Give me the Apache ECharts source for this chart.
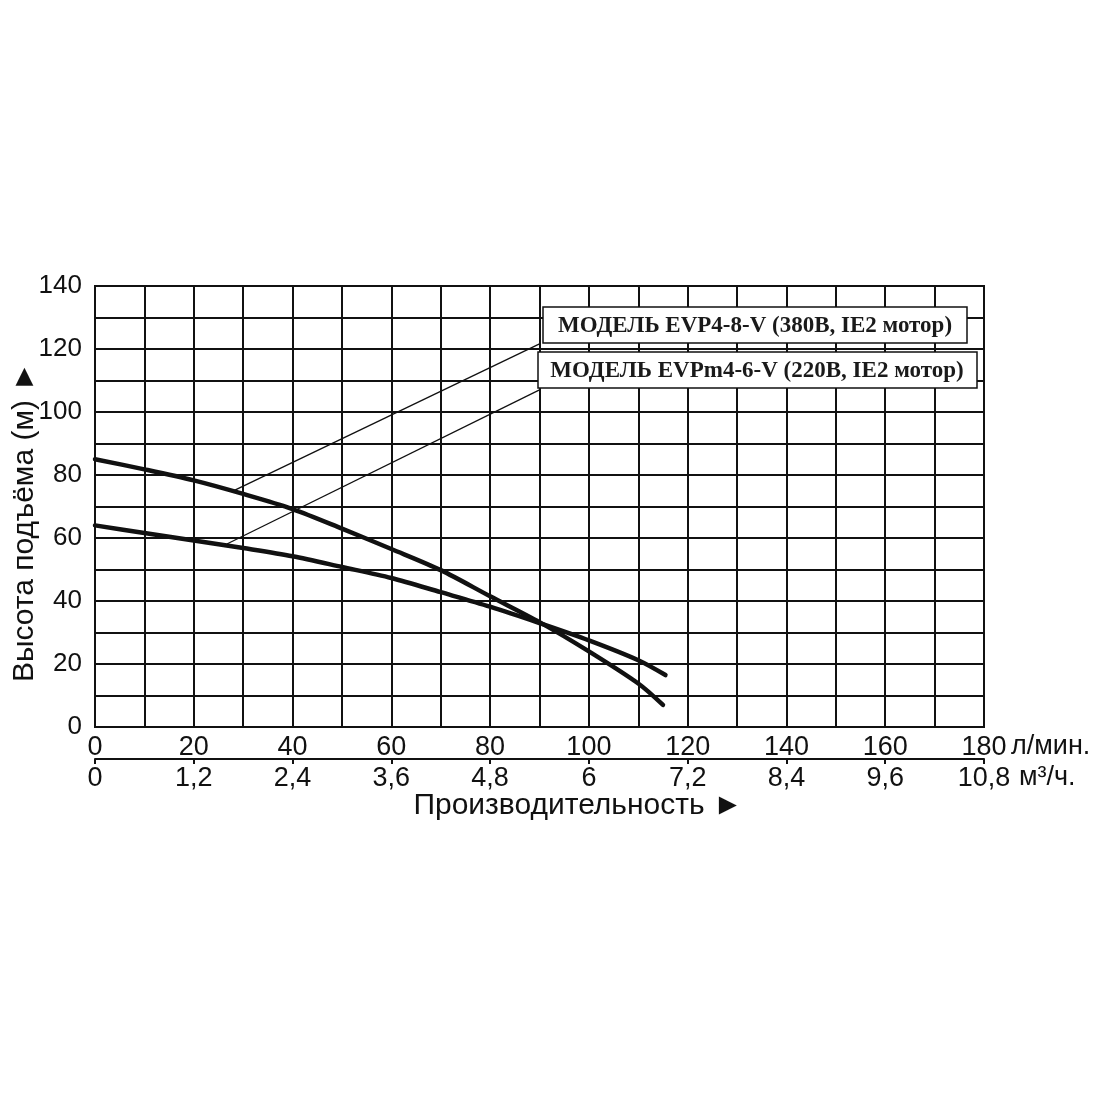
<!DOCTYPE html>
<html>
<head>
<meta charset="utf-8">
<script src="https://cdn.jsdelivr.net/npm/echarts@6/dist/echarts.min.js"></script>
<style>
  html, body { margin: 0; padding: 0; background: #fff; }
  #chart { width: 1100px; height: 1100px; }
</style>
</head>
<body>
<div id="chart"></div>
<script>
// pump curves, flow in l/min, head in m
const flowA = [0, 10, 20, 30, 40, 50, 60, 70, 80, 90, 100, 110, 115];
const headA = [85, 81.8, 78.3, 74, 69.2, 63, 56.5, 49.8, 41.5, 33.3, 24, 13.8, 7];
const flowB = [0, 10, 20, 30, 40, 50, 60, 70, 80, 90, 100, 110, 115.5];
const headB = [64, 61.6, 59.2, 56.8, 54.2, 50.8, 47.3, 42.8, 38.2, 33, 27.5, 21.2, 16.5];

// leader lines from curve to label box
const leaderA = [[27.9, 74.9], [90, 121.6]];
const leaderB = [[26.7, 58.1], [90, 107]];

const modelNames = ["МОДЕЛЬ EVP4-8-V (380В, IE2 мотор)", "МОДЕЛЬ EVPm4-6-V (220В, IE2 мотор)"];
const m3hLabels = ["0", "1,2", "2,4", "3,6", "4,8", "6", "7,2", "8,4", "9,6", "10,8"];

const FONT = "'Liberation Sans', Arial, sans-serif";
const SERIF = "'Liberation Serif', 'Times New Roman', serif";
const INK = "#111";

const chart = echarts.init(document.getElementById("chart"));

const option = {
  backgroundColor: "#fff",
  animation: false,
  grid: {
    left: 95, right: 116, top: 286, bottom: 373,
    show: true, borderColor: INK, borderWidth: 2
  },
  xAxis: [
    {
      type: "value", min: 0, max: 180, interval: 10,
      axisLine: { show: true, lineStyle: { color: INK, width: 2 } },
      axisTick: { show: false },
      splitLine: { show: true, lineStyle: { color: INK, width: 2 } },
      axisLabel: {
        margin: 7, fontSize: 27, color: INK, fontFamily: FONT,
        formatter: (v) => (v % 20 === 0 ? String(v) : "")
      }
    },
    {
      type: "value", min: 0, max: 180, interval: 20,
      position: "bottom", offset: 32,
      axisLine: { show: true, lineStyle: { color: INK, width: 2 } },
      axisTick: { show: true, length: 5, lineStyle: { color: INK, width: 2 } },
      splitLine: { show: false },
      axisLabel: {
        margin: 6, fontSize: 27, color: INK, fontFamily: FONT,
        formatter: (v) => m3hLabels[Math.round(v / 20)]
      }
    }
  ],
  yAxis: {
    type: "value", min: 0, max: 140, interval: 10,
    axisLine: { show: true, lineStyle: { color: INK, width: 2 } },
    axisTick: { show: false },
    splitLine: { show: true, lineStyle: { color: INK, width: 2 } },
    axisLabel: {
      margin: 13, fontSize: 26, color: INK, fontFamily: FONT,
      formatter: (v) => (v % 20 === 0 ? String(v) : "")
    }
  },
  series: [
    {
      name: modelNames[0], type: "line", xAxisIndex: 0,
      data: flowA.map((f, i) => [f, headA[i]]),
      smooth: 0.3, showSymbol: false,
      lineStyle: { color: INK, width: 4.5, cap: "round" },
      markLine: {
        silent: true, symbol: ["none", "none"],
        label: { show: false },
        lineStyle: { color: INK, width: 1.3, type: "solid" },
        data: [[{ coord: leaderA[0] }, { coord: leaderA[1] }]]
      },
      z: 3
    },
    {
      name: modelNames[1], type: "line", xAxisIndex: 0,
      data: flowB.map((f, i) => [f, headB[i]]),
      smooth: 0.3, showSymbol: false,
      lineStyle: { color: INK, width: 4.5, cap: "round" },
      markLine: {
        silent: true, symbol: ["none", "none"],
        label: { show: false },
        lineStyle: { color: INK, width: 1.3, type: "solid" },
        data: [[{ coord: leaderB[0] }, { coord: leaderB[1] }]]
      },
      z: 3
    }
  ],
  graphic: [
    // model label boxes
    { type: "rect", z: 100, shape: { x: 543, y: 307, width: 424, height: 36 },
      style: { fill: "#fff", stroke: INK, lineWidth: 1.5 } },
    { type: "text", z: 101, x: 755, y: 326,
      style: { text: modelNames[0], fill: "#1a1a1a", align: "center", verticalAlign: "middle",
               font: "bold 23px " + SERIF } },
    { type: "rect", z: 100, shape: { x: 538, y: 352, width: 439, height: 36 },
      style: { fill: "#fff", stroke: INK, lineWidth: 1.5 } },
    { type: "text", z: 101, x: 757, y: 371,
      style: { text: modelNames[1], fill: "#1a1a1a", align: "center", verticalAlign: "middle",
               font: "bold 23px " + SERIF } },
    // axis units and titles
    { type: "text", x: 1011, y: 747,
      style: { text: "л/мин.", fill: INK, align: "left", verticalAlign: "middle", font: "27px " + FONT } },
    { type: "text", x: 1019, y: 778,
      style: { text: "м³/ч.", fill: INK, align: "left", verticalAlign: "middle", font: "27px " + FONT } },
    { type: "text", x: 578, y: 806,
      style: { text: "Производительность ►", fill: INK, align: "center", verticalAlign: "middle", font: "30px " + FONT } },
    { type: "text", x: 25, y: 522, rotation: Math.PI / 2,
      style: { text: "Высота подъёма (м) ►", fill: INK, align: "center", verticalAlign: "middle", font: "30px " + FONT } }
  ]
};

chart.setOption(option);
</script>
</body>
</html>
